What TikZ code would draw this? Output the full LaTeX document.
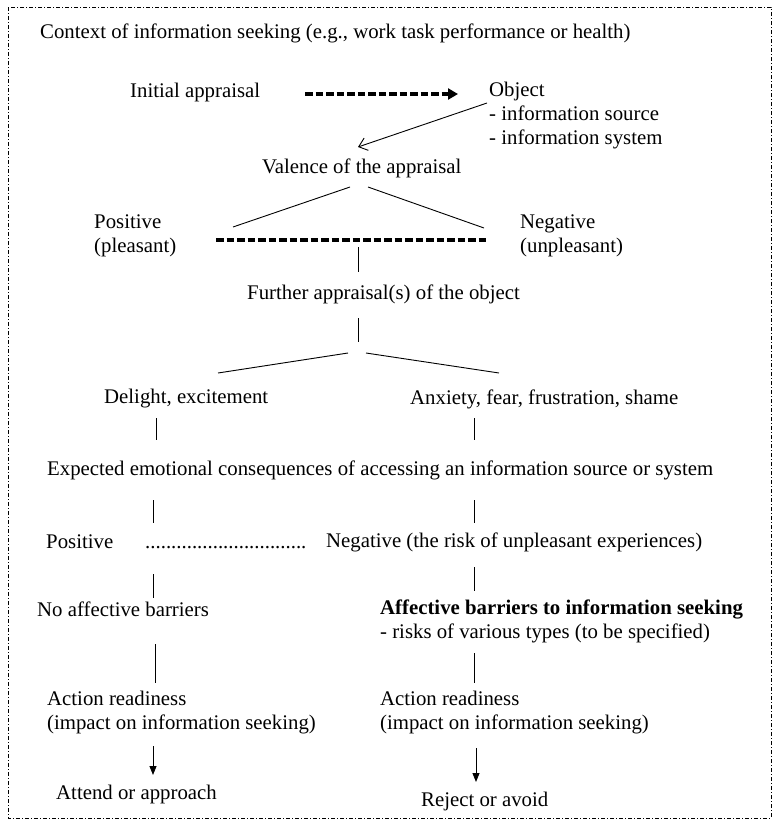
\documentclass[tikz,border=0pt]{standalone}
\usepackage{fontspec}
\setmainfont{Liberation Serif}
\usetikzlibrary{arrows.meta}
\begin{document}
\begin{tikzpicture}[x=1pt,y=-1pt,
  txt/.style={font=\fontsize{20.8}{24}\selectfont, inner sep=0pt, anchor=west, align=left},
  ln/.style={line width=0.9pt},
  thickdash/.style={line width=3.1pt, dash pattern=on 7.5pt off 3pt},
  border/.style={line width=0.8pt, dash pattern=on 4pt off 2pt on 1pt off 2pt},
  openarrow/.style={ln, -{Straight Barb[length=8pt,width=13pt,line width=0.9pt]}},
  fillarrow/.style={ln, -{Triangle[length=9pt,width=7pt]}}
]
\useasboundingbox (0,0) rectangle (780,828);
\draw[border] (8,7) rectangle (771,818);

\node[txt] (ctx) at (40,33) {Context of information seeking (e.g., work task performance or health)};
\node[txt] (init) at (130,92) {Initial appraisal};
\node[txt] (obj) at (489,116) {Object\\- information source\\- information system};
\node[txt] (val) at (262,168) {Valence of the appraisal};
\node[txt] (pos) at (94,236) {Positive\\(pleasant)};
\node[txt] (neg) at (520,236) {Negative\\(unpleasant)};
\node[txt] (fur) at (247,294) {Further appraisal(s) of the object};
\node[txt] (del) at (104,399) {Delight, excitement};
\node[txt] (anx) at (410,399) {Anxiety, fear, frustration, shame};
\node[txt] (exp) at (47,470) {Expected emotional consequences of accessing an information source or system};
\node[txt] (posb) at (46,542) {Positive};
\node[txt, anchor=base west] (dots) at (145,548) {...............................};
\node[txt] (negb) at (326,542) {Negative (the risk of unpleasant experiences)};
\node[txt] (nob) at (37,609) {No affective barriers};
\node[txt] (afb) at (380,621) {\textbf{Affective barriers to information seeking}\\- risks of various types (to be specified)};
\node[txt] (arl) at (47,713) {Action readiness\\(impact on information seeking)};
\node[txt] (arr) at (380,713) {Action readiness\\(impact on information seeking)};
\node[txt] (att) at (56,794) {Attend or approach};
\node[txt] (rej) at (421,801) {Reject or avoid};

% coordinates for connector ends
\coordinate (a1) at (305,94);  \coordinate (a2) at (458,94);
\coordinate (b1) at (487,103); \coordinate (b2) at (358,147);
\coordinate (c0l) at (350,187); \coordinate (c1l) at (233,227);
\coordinate (c0r) at (368,187); \coordinate (c1r) at (484,228);
\coordinate (d1) at (216,240); \coordinate (d2) at (488,240);
\coordinate (e1) at (358,247); \coordinate (e2) at (358,272);
\coordinate (f1) at (358,318); \coordinate (f2) at (358,342);
\coordinate (g0l) at (348,353); \coordinate (g1l) at (218,373);
\coordinate (g0r) at (366,353); \coordinate (g1r) at (499,373);
\coordinate (h1) at (156,418); \coordinate (h2) at (156,440);
\coordinate (i1) at (474,418); \coordinate (i2) at (474,440);
\coordinate (j1) at (153,500); \coordinate (j2) at (153,523);
\coordinate (k1) at (474,500); \coordinate (k2) at (474,523);
\coordinate (l1) at (153,574); \coordinate (l2) at (153,598);
\coordinate (m1) at (474,567); \coordinate (m2) at (474,591);
\coordinate (n1) at (155,644); \coordinate (n2) at (155,683);
\coordinate (o1) at (474,653); \coordinate (o2) at (474,683);
\coordinate (p1) at (153,746); \coordinate (p2) at (153,775);
\coordinate (q1) at (476,748); \coordinate (q2) at (476,782);

\draw[thickdash, -{Triangle[length=10pt,width=11pt]}] (a1) -- (a2);
\draw[openarrow] (b1) -- (b2);
\draw[ln] (c0l) -- (c1l);
\draw[ln] (c0r) -- (c1r);
\draw[thickdash] (d1) -- (d2);
\draw[ln] (e1) -- (e2);
\draw[ln] (f1) -- (f2);
\draw[ln] (g0l) -- (g1l);
\draw[ln] (g0r) -- (g1r);
\draw[ln] (h1) -- (h2);
\draw[ln] (i1) -- (i2);
\draw[ln] (j1) -- (j2);
\draw[ln] (k1) -- (k2);
\draw[ln] (l1) -- (l2);
\draw[ln] (m1) -- (m2);
\draw[ln] (n1) -- (n2);
\draw[ln] (o1) -- (o2);
\draw[fillarrow] (p1) -- (p2);
\draw[fillarrow] (q1) -- (q2);
\end{tikzpicture}
\end{document}
